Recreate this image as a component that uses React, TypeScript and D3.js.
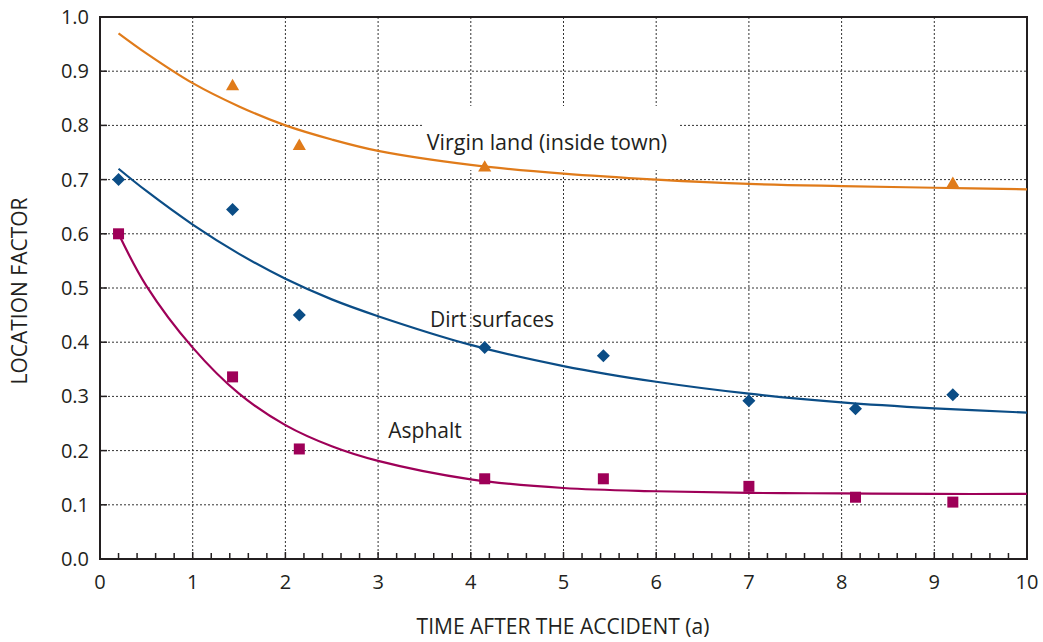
import React from "react";
import * as d3 from "d3";

const xTicks = [0, 1, 2, 3, 4, 5, 6, 7, 8, 9, 10];
const yTicks = [0, 0.1, 0.2, 0.3, 0.4, 0.5, 0.6, 0.7, 0.8, 0.9, 1.0];

// measured points
const virginX = [1.43, 2.15, 4.15, 9.2];
const virginY = [0.87, 0.76, 0.72, 0.69];
const dirtX = [0.2, 1.43, 2.15, 4.15, 5.43, 7.0, 8.15, 9.2];
const dirtY = [0.7, 0.645, 0.45, 0.39, 0.375, 0.292, 0.277, 0.303];
const asphaltX = [0.2, 1.43, 2.15, 4.15, 5.43, 7.0, 8.15, 9.2];
const asphaltY = [0.6, 0.336, 0.203, 0.148, 0.148, 0.134, 0.114, 0.105];

// fitted curves
const curveX = [0.2, 0.5, 1, 1.5, 2, 2.5, 3, 4, 5, 6, 7, 8, 9, 10];
const virginCurve = [0.97, 0.933, 0.878, 0.835, 0.8, 0.774, 0.753, 0.727, 0.711, 0.7, 0.692, 0.688, 0.685, 0.682];
const dirtCurve = [0.72, 0.679, 0.617, 0.563, 0.517, 0.479, 0.448, 0.395, 0.356, 0.327, 0.305, 0.289, 0.278, 0.27];
const asphaltCurve = [0.6, 0.504, 0.39, 0.305, 0.247, 0.208, 0.181, 0.147, 0.131, 0.125, 0.122, 0.121, 0.12, 0.12];

const C_ORANGE = "#e07b1a";
const C_BLUE = "#0b4d86";
const C_MAG = "#9e0058";
const C_AX = "#231f20";
const FONT = "'Open Sans', 'Noto Sans', sans-serif";

export default function App() {
  const x = d3.scaleLinear().domain([0, 10]).range([100, 1027]);
  const y = d3.scaleLinear().domain([0, 1]).range([559, 17]);
  const line = d3
    .line<number>()
    .x((_, i) => x(curveX[i]))
    .y((d) => y(d))
    .curve(d3.curveCatmullRom.alpha(0.5));

  const minor = d3.range(0, 50).map((i) => i * 0.2).filter((v) => Math.abs(v - Math.round(v)) > 1e-6);

  const tri = d3.symbol().type(d3.symbolTriangle).size(75)()!;
  const dia = (cx: number, cy: number) => {
    const r = 6.5;
    return `M${cx},${cy - r}L${cx + r},${cy}L${cx},${cy + r}L${cx - r},${cy}Z`;
  };

  return (
    <svg width={1043} height={642} style={{ position: "absolute", left: 0, top: 0, background: "#fff" }} fontFamily={FONT}>
      {/* grid */}
      {xTicks.slice(1, -1).map((t) => (
        <line key={"gx" + t} x1={x(t)} x2={x(t)} y1={y(0)} y2={y(1)} stroke="#333" strokeWidth={1} strokeDasharray="2,2" />
      ))}
      {yTicks.slice(1, -1).map((t) => (
        <line key={"gy" + t} x1={x(0)} x2={x(10)} y1={y(t)} y2={y(t)} stroke="#333" strokeWidth={1} strokeDasharray="2,2" />
      ))}
      {/* label backgrounds */}
      <rect x={422} y={106} width={256} height={64} fill="#fff" />
      {/* minor ticks */}
      {minor.map((t) => (
        <line key={"mx" + t} x1={x(t)} x2={x(t)} y1={y(0)} y2={y(0) - 6} stroke={C_AX} strokeWidth={1.5} />
      ))}
      {xTicks.map((t) => (
        <line key={"tx" + t} x1={x(t)} x2={x(t)} y1={y(0)} y2={y(0) - 7} stroke={C_AX} strokeWidth={1.5} />
      ))}
      {yTicks.map((t) => (
        <line key={"ty" + t} x1={x(0)} x2={x(0) + 7} y1={y(t)} y2={y(t)} stroke={C_AX} strokeWidth={1.5} />
      ))}
      {/* frame */}
      <rect x={x(0)} y={y(1)} width={x(10) - x(0)} height={y(0) - y(1)} fill="none" stroke={C_AX} strokeWidth={2} />

      {/* curves */}
      <path d={line(virginCurve)!} fill="none" stroke={C_ORANGE} strokeWidth={2.2} />
      <path d={line(dirtCurve)!} fill="none" stroke={C_BLUE} strokeWidth={2.2} />
      <path d={line(asphaltCurve)!} fill="none" stroke={C_MAG} strokeWidth={2.2} />

      {/* markers */}
      {virginX.map((vx, i) => (
        <path key={"v" + i} d={tri} transform={`translate(${x(vx)},${y(virginY[i]) - 1})`} fill={C_ORANGE} />
      ))}
      {dirtX.map((vx, i) => (
        <path key={"d" + i} d={dia(x(vx), y(dirtY[i]))} fill={C_BLUE} />
      ))}
      {asphaltX.map((vx, i) => (
        <rect key={"a" + i} x={x(vx) - 5.5} y={y(asphaltY[i]) - 5.5} width={11} height={11} fill={C_MAG} />
      ))}

      {/* series labels */}
      <text x={547} y={150} textAnchor="middle" fontSize={21.5} fill={C_AX}>Virgin land (inside town)</text>
      <text x={492} y={327} textAnchor="middle" fontSize={21} fill={C_AX}>Dirt surfaces</text>
      <text x={425} y={438} textAnchor="middle" fontSize={21} fill={C_AX}>Asphalt</text>

      {/* tick labels */}
      {yTicks.map((t) => (
        <text key={"ly" + t} x={89} y={y(t) + 7} textAnchor="end" fontSize={20} fill={C_AX}>{t.toFixed(1)}</text>
      ))}
      {xTicks.map((t) => (
        <text key={"lx" + t} x={x(t)} y={589} textAnchor="middle" fontSize={20} fill={C_AX}>{t}</text>
      ))}

      {/* axis titles */}
      <text x={563} y={634} textAnchor="middle" fontSize={21} fill={C_AX}>TIME AFTER THE ACCIDENT (a)</text>
      <text transform={`translate(27,291) rotate(-90)`} textAnchor="middle" fontSize={21} fill={C_AX}>LOCATION FACTOR</text>
    </svg>
  );
}
